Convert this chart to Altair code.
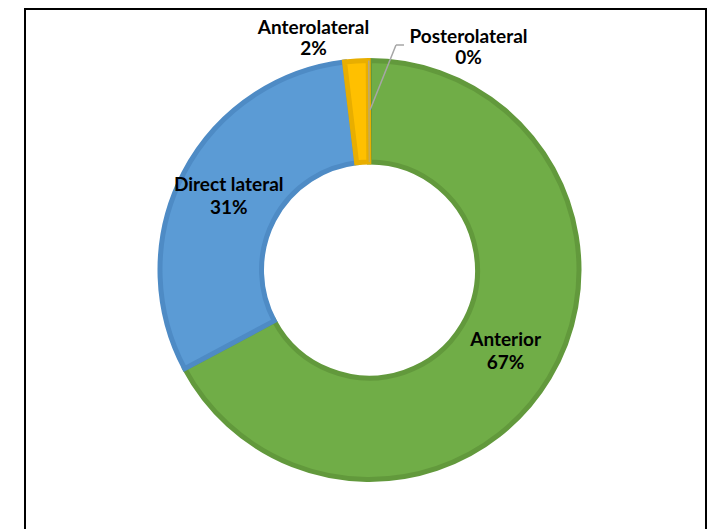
import altair as alt
import pandas as pd

categories = ["Anterior", "Direct lateral", "Anterolateral", "Posterolateral"]
values = [67.2, 30.9, 1.8, 0.1]
pct_labels = ["67%", "31%", "2%", "0%"]
fill_colors = ["#70AD47", "#5B9BD5", "#FFC000", "#A5A5A5"]
stroke_colors = ["#62993C", "#4E8BC5", "#E8AE00", "rgba(0,0,0,0)"]
inside = [True, True, False, False]

df = pd.DataFrame({
    "cat": categories,
    "value": values,
    "idx": list(range(len(categories))),
    "label": [c + "\n" + p for c, p in zip(categories, pct_labels)],
})
df["inner_label"] = [l if i else "" for l, i in zip(df["label"], inside)]

CX, CY = 361.5, 262
FONT = "Lato"
FS = 19

base = alt.Chart(df).encode(
    theta=alt.Theta("value:Q", stack=True),
    order=alt.Order("idx:Q"),
)

arcs = base.mark_arc(innerRadius=108, outerRadius=209.5, strokeWidth=5).encode(
    fill=alt.Fill("cat:N", scale=alt.Scale(domain=categories, range=fill_colors), legend=None),
    stroke=alt.Stroke("cat:N", scale=alt.Scale(domain=categories, range=stroke_colors), legend=None),
    x=alt.value(CX),
    y=alt.value(CY),
)

inner_text = base.mark_text(
    radius=158.75, font=FONT, fontSize=FS, fontWeight="bold", lineBreak="\n",
    lineHeight=23, dy=-11.5, align="center", baseline="middle", color="#000000",
).encode(text="inner_label:N", x=alt.value(CX), y=alt.value(CY))

def outer_label(cat, px, py):
    return alt.Chart(df).transform_filter(alt.datum.cat == cat).mark_text(
        font=FONT, fontSize=FS, fontWeight="bold", lineBreak="\n",
        lineHeight=21, dy=-10.5, align="center", baseline="middle", color="#000000",
    ).encode(text="label:N", x=alt.value(px), y=alt.value(py))

one = pd.DataFrame({"a": [0]})
frame = alt.Chart(one).mark_rect(fillOpacity=0, stroke="#000000", strokeWidth=2).encode(
    x=alt.value(17), x2=alt.value(698), y=alt.value(1), y2=alt.value(560)
)
leader1 = alt.Chart(one).mark_rule(color="#A6A6A6", strokeWidth=1.5).encode(
    x=alt.value(362), y=alt.value(102), x2=alt.value(388), y2=alt.value(37)
)
leader2 = alt.Chart(one).mark_rule(color="#A6A6A6", strokeWidth=1.5).encode(
    x=alt.value(388), y=alt.value(37), x2=alt.value(396), y2=alt.value(37)
)

chart = alt.layer(
    frame, arcs, inner_text,
    outer_label("Anterolateral", 305.5, 30),
    outer_label("Posterolateral", 460.5, 39.5),
    leader1, leader2,
).properties(
    width=699, height=521, padding=0,
    autosize=alt.AutoSizeParams(type="none"),
    background="white",
).configure_view(stroke=None)

chart.save("out.html", embed_options={"renderer": "svg", "actions": False})
